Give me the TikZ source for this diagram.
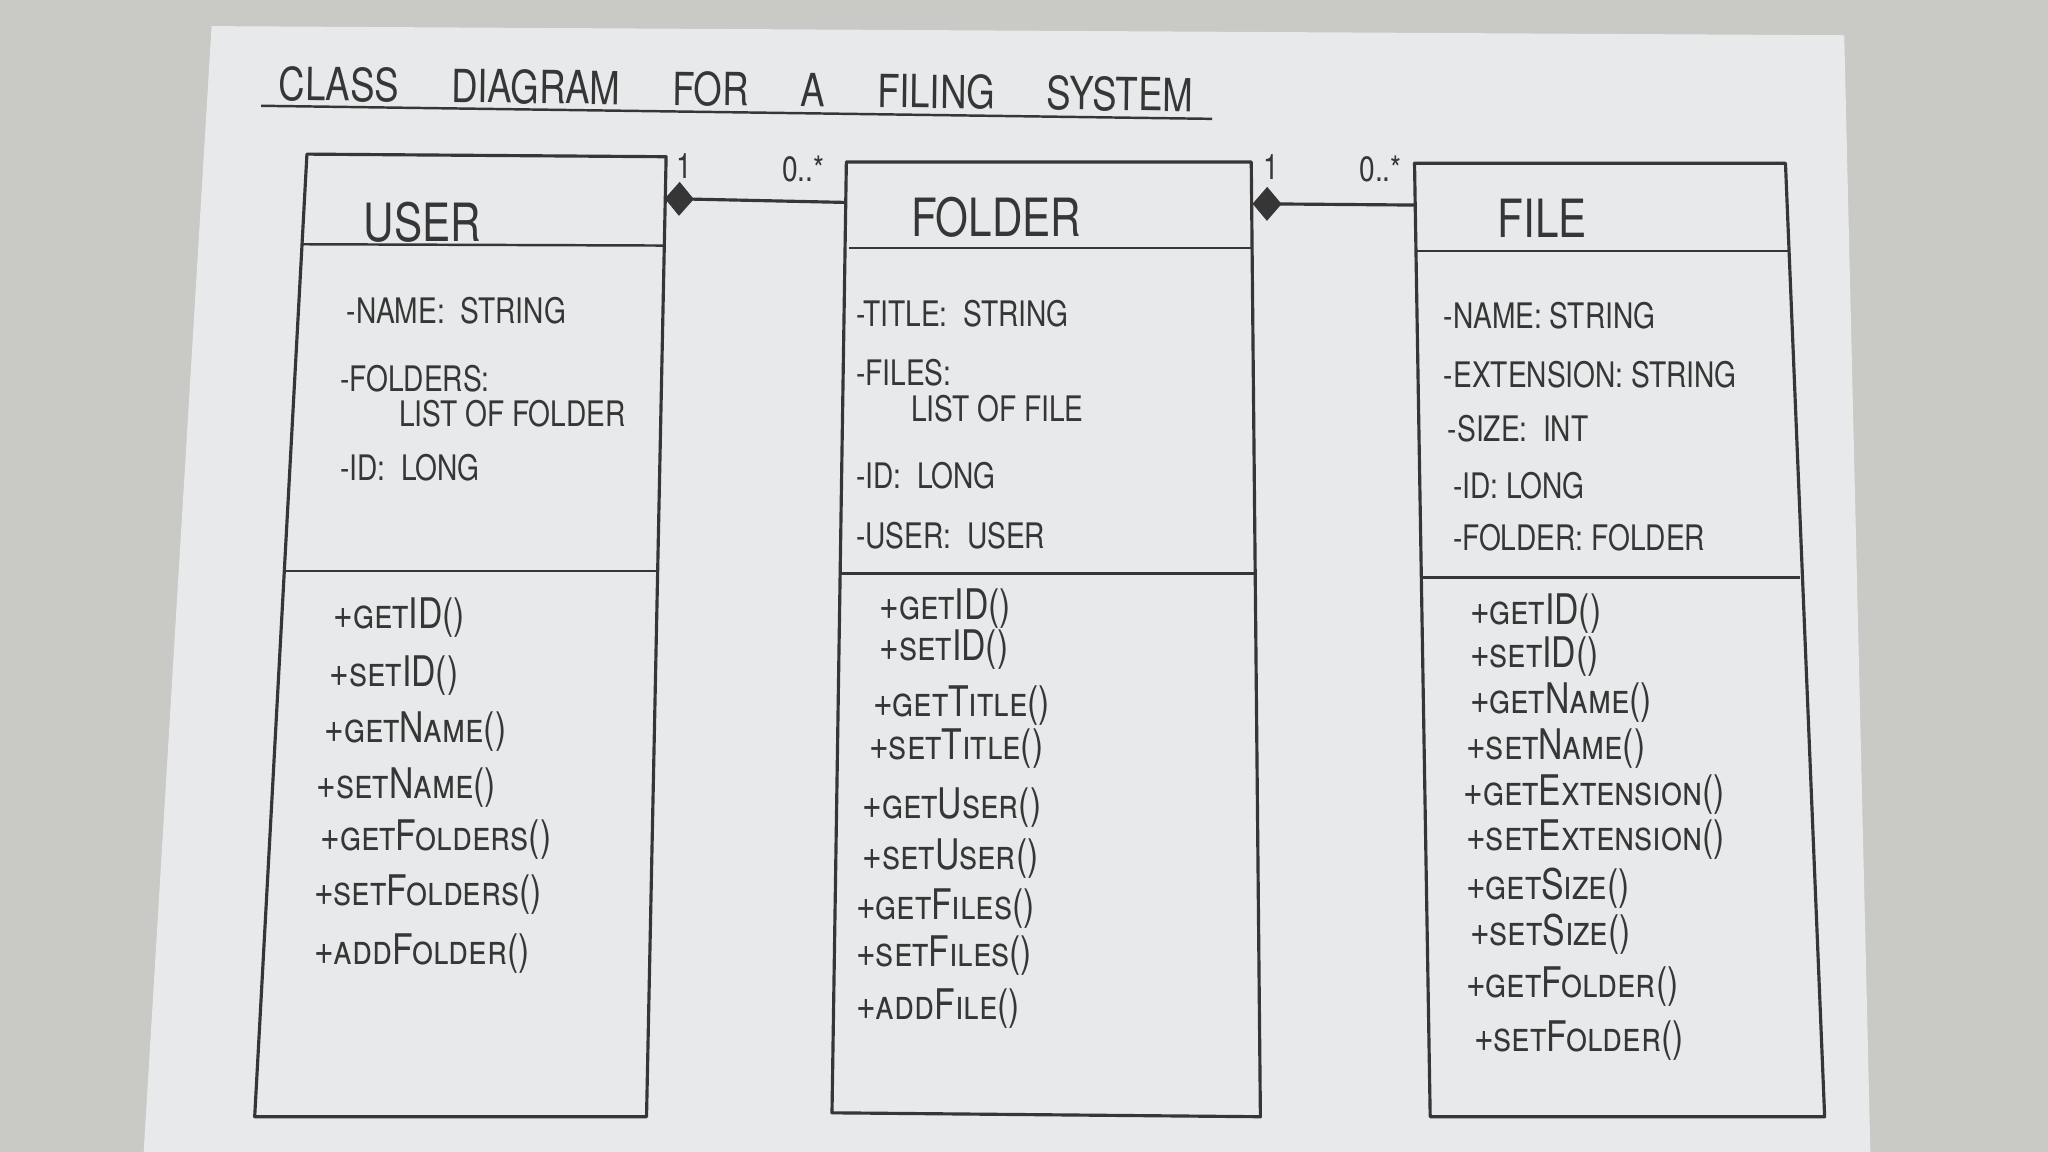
\documentclass[tikz,border=0pt]{standalone}
\usepackage{fontspec}
\setmainfont{TeX Gyre Heros}[FakeStretch=0.8]
\usetikzlibrary{arrows.meta,calc}
\definecolor{desk}{HTML}{C9C9C6}
\definecolor{paper}{HTML}{E8E9EA}
\definecolor{ink}{HTML}{363636}
\tikzset{
  frame/.style={draw=ink, line width=0.9pt, line join=round},
  divider/.style={draw=ink, line width=0.7pt},
  member/.style={anchor=west, text=ink, inner sep=0pt, font=\fontsize{12}{12}\selectfont\scshape},
  attr/.style={anchor=west, text=ink, inner sep=0pt, font=\fontsize{10}{10}\selectfont},
  classname/.style={anchor=west, text=ink, inner sep=0pt, font=\fontsize{15}{15}\selectfont},
  mult/.style={text=ink, inner sep=0pt, font=\fontsize{10}{10}\selectfont},
  assoc/.style={draw=ink, line width=0.9pt, {Diamond[length=0.29cm,width=0.34cm,fill=ink]}-},
}
\newcommand{\wordgap}{\hspace{0.52cm}}
\begin{document}
\begin{tikzpicture}[x=0.013061cm, y=-0.013061cm]
\useasboundingbox (0,0) rectangle (1568,882);
% desk and sheet
\fill[desk] (0,0) rectangle (1568,882);
\fill[paper] (162,20) -- (1412,27) -- (1432,882) -- (110,882) -- cycle;

% title
\node[anchor=west, text=ink, inner sep=0pt, rotate=-0.7,
      font=\fontsize{13}{13}\selectfont] (title) at (213,64)
  {CLASS\wordgap DIAGRAM\wordgap FOR\wordgap A\wordgap FILING\wordgap SYSTEM};
\coordinate (ulA) at (200,81);
\coordinate (ulB) at (928,91);
\draw[divider] (ulA) -- (ulB);

% ---------- User ----------
\coordinate (uTL) at (235,118);
\coordinate (uTR) at (510,120);
\coordinate (uBR) at (495,855);
\coordinate (uBL) at (195,855);
\draw[frame] (uTL) -- (uTR) -- (uBR) -- (uBL) -- cycle;
\draw[divider] (231,187) -- (508,188);
\draw[divider] (218,437) -- (504,437);
\node[classname] (userName) at (278,170) {USER};
\node[attr] (uA1) at (265,238) {-NAME:\ \ STRING};
\node[attr] (uA2) at (260,290) {-FOLDERS:};
\node[attr] (uA3) at (305,317) {LIST OF FOLDER};
\node[attr] (uA4) at (260,358) {-ID:\ \ LONG};
\node[member] (uM1) at (255,473) {+getID()};
\node[member] (uM2) at (252,517) {+setID()};
\node[member] (uM3) at (248,560) {+getName()};
\node[member] (uM4) at (242,603) {+setName()};
\node[member] (uM5) at (245,643) {+getFolders()};
\node[member] (uM6) at (240,685) {+setFolders()};
\node[member] (uM7) at (240,730) {+addFolder()};

% ---------- Folder ----------
\coordinate (fTL) at (648,124);
\coordinate (fTR) at (958,124);
\coordinate (fBR) at (965,855);
\coordinate (fBL) at (637,852);
\draw[frame] (fTL) -- (fTR) -- (fBR) -- (fBL) -- cycle;
\draw[divider] (650,190) -- (958,190);
\draw[divider] (643,439) -- (961,439);
\node[classname] (folderName) at (697,166) {FOLDER};
\node[attr] (fA1) at (655,240) {-TITLE:\ \ STRING};
\node[attr] (fA2) at (655,285) {-FILES:};
\node[attr] (fA3) at (697,313) {LIST OF FILE};
\node[attr] (fA4) at (655,364) {-ID:\ \ LONG};
\node[attr] (fA5) at (655,410) {-USER:\ \ USER};
\node[member] (fM1) at (673,466) {+getID()};
\node[member] (fM2) at (673,497) {+setID()};
\node[member] (fM3) at (668,540) {+getTitle()};
\node[member] (fM4) at (665,573) {+setTitle()};
\node[member] (fM5) at (660,618) {+getUser()};
\node[member] (fM6) at (660,657) {+setUser()};
\node[member] (fM7) at (655,696) {+getFiles()};
\node[member] (fM8) at (655,732) {+setFiles()};
\node[member] (fM9) at (655,772) {+addFile()};

% ---------- File ----------
\coordinate (iTL) at (1083,125);
\coordinate (iTR) at (1367,125);
\coordinate (iBR) at (1397,855);
\coordinate (iBL) at (1095,855);
\draw[frame] (iTL) -- (iTR) -- (iBR) -- (iBL) -- cycle;
\draw[divider] (1084,192) -- (1370,192);
\draw[divider] (1088,442) -- (1378,442);
\node[classname] (fileName) at (1146,167) {FILE};
\node[attr] (iA1) at (1105,242) {-NAME:\ STRING};
\node[attr] (iA2) at (1105,287) {-EXTENSION:\ STRING};
\node[attr] (iA3) at (1108,328) {-SIZE:\ \ INT};
\node[attr] (iA4) at (1112,372) {-ID:\ LONG};
\node[attr] (iA5) at (1112,412) {-FOLDER:\ FOLDER};
\node[member] (iM1) at (1125,470) {+getID()};
\node[member] (iM2) at (1125,503) {+setID()};
\node[member] (iM3) at (1125,538) {+getName()};
\node[member] (iM4) at (1122,573) {+setName()};
\node[member] (iM5) at (1120,608) {+getExtension()};
\node[member] (iM6) at (1122,643) {+setExtension()};
\node[member] (iM7) at (1122,680) {+getSize()};
\node[member] (iM8) at (1125,715) {+setSize()};
\node[member] (iM9) at (1122,755) {+getFolder()};
\node[member] (iM10) at (1128,797) {+setFolder()};

% ---------- associations ----------
\coordinate (userPort) at (509,152);
\coordinate (folderIn) at (648,155);
\coordinate (folderPort) at (959,156);
\coordinate (fileIn) at (1083,157);
\draw[assoc] (userPort) -- (folderIn);
\draw[assoc] (folderPort) -- (fileIn);
\node[mult] (m1) at (524,127) {1};
\node[mult] (m2) at (615,129) {0..*};
\node[mult] (m3) at (973,128) {1};
\node[mult] (m4) at (1057,129) {0..*};
\end{tikzpicture}
\end{document}
